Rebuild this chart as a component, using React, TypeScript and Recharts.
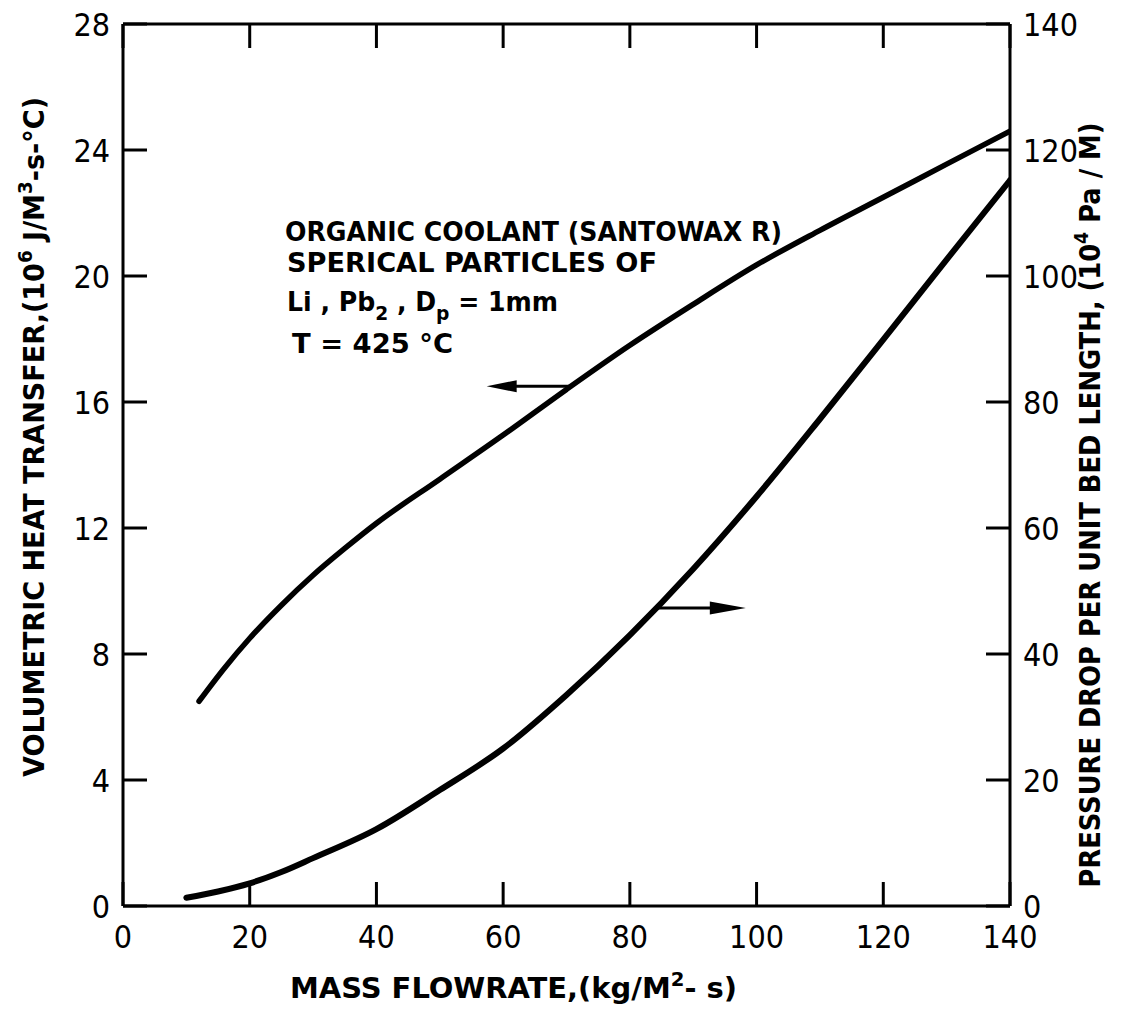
import React from 'react';
import { LineChart, Line, XAxis, YAxis, ReferenceLine, ReferenceDot, Customized } from 'recharts';

const xTicks = [0, 20, 40, 60, 80, 100, 120, 140];
const leftTicks = [0, 4, 8, 12, 16, 20, 24, 28];
const rightTicks = [0, 20, 40, 60, 80, 100, 120, 140];

// Volumetric heat transfer (10^6 J/M^3-s-°C) vs mass flowrate
const heatFlow = [12, 16, 20, 25, 30, 35, 40, 50, 60, 70, 80, 90, 100, 110, 120, 130, 140];
const heatTransfer = [6.5, 7.55, 8.5, 9.55, 10.5, 11.35, 12.15, 13.55, 14.95, 16.4, 17.8, 19.1, 20.35, 21.45, 22.5, 23.55, 24.6];

// Pressure drop per unit bed length (10^4 Pa/M) vs mass flowrate
const dropFlow = [10, 15, 20, 25, 30, 40, 50, 60, 70, 80, 90, 100, 110, 120, 130, 140];
const pressureDrop = [1.3, 2.3, 3.6, 5.4, 7.6, 12.2, 18.4, 25.0, 33.5, 43.0, 53.5, 65.0, 77.3, 89.9, 102.6, 115.2];

// Arrows pointing to the axis each curve belongs to
const leftArrowX = [70.5, 57.4];
const leftArrowY = 16.5;
const rightArrowX = [84.3, 98.3];
const rightArrowY = 47.3;

const noteLines = ['ORGANIC COOLANT (SANTOWAX R)', 'SPERICAL PARTICLES OF', 'T = 425 °C'];

const heatData = heatFlow.map((x, i) => ({ x, y: heatTransfer[i] }));
const dropData = dropFlow.map((x, i) => ({ x, y: pressureDrop[i] }));

const FONT = "'DejaVu Sans Condensed', 'DejaVu Sans', sans-serif";
const TICK_LEN = 24;

const BottomTick = (p: any) => (
  <g>
    <line x1={p.x} y1={p.y} x2={p.x} y2={p.y - TICK_LEN} stroke="#000" strokeWidth={3} />
    <text x={p.x} y={p.y + 42} textAnchor="middle" fontSize={32} fontFamily={FONT} fontStretch="condensed" fill="#000">
      {p.payload.value}
    </text>
  </g>
);

const TopTick = (p: any) => (
  <line x1={p.x} y1={p.y} x2={p.x} y2={p.y + TICK_LEN} stroke="#000" strokeWidth={3} />
);

const LeftTick = (p: any) => (
  <g>
    <line x1={p.x} y1={p.y} x2={p.x + TICK_LEN} y2={p.y} stroke="#000" strokeWidth={3} />
    <text x={p.x - 13} y={p.y + 12} textAnchor="end" fontSize={32} fontFamily={FONT} fontStretch="condensed" fill="#000">
      {p.payload.value}
    </text>
  </g>
);

const RightTick = (p: any) => (
  <g>
    <line x1={p.x} y1={p.y} x2={p.x - TICK_LEN} y2={p.y} stroke="#000" strokeWidth={3} />
    <text x={p.x + 13} y={p.y + 12} textAnchor="start" fontSize={32} fontFamily={FONT} fontStretch="condensed" fill="#000">
      {p.payload.value}
    </text>
  </g>
);

const LeftHead = (p: any) => (
  <polygon points={`${p.cx},${p.cy} ${p.cx + 30},${p.cy - 6} ${p.cx + 30},${p.cy + 6}`} fill="#000" />
);
const RightHead = (p: any) => (
  <polygon points={`${p.cx},${p.cy} ${p.cx - 36},${p.cy - 6.5} ${p.cx - 36},${p.cy + 6.5}`} fill="#000" />
);

const txt = { fontFamily: FONT, fontStretch: 'condensed', fontWeight: 'bold', fill: '#000' } as any;

const TextLayer = () => (
  <g>
    {/* left axis title */}
    <text transform="translate(44,437) rotate(-90)" textAnchor="middle" fontSize={28} textLength={680} lengthAdjust="spacingAndGlyphs" {...txt}>
      VOLUMETRIC HEAT TRANSFER,(10<tspan dy={-12} fontSize={19}>6</tspan><tspan dy={12}> J/M</tspan><tspan dy={-12} fontSize={19}>3</tspan><tspan dy={12}>-s-°C)</tspan>
    </text>
    {/* right axis title */}
    <text transform="translate(1100,505) rotate(-90)" textAnchor="middle" fontSize={28} textLength={765} lengthAdjust="spacingAndGlyphs" {...txt}>
      PRESSURE DROP PER UNIT BED LENGTH, (10<tspan dy={-12} fontSize={19}>4</tspan><tspan dy={12}> Pa / M)</tspan>
    </text>
    {/* x axis title */}
    <text x={290} y={998} fontSize={28} textLength={447} lengthAdjust="spacingAndGlyphs" {...txt}>
      MASS FLOWRATE,(kg/M<tspan dy={-12} fontSize={19}>2</tspan><tspan dy={12}>- s)</tspan>
    </text>
    {/* annotation */}
    <text x={285} y={241} fontSize={27} textLength={497} lengthAdjust="spacingAndGlyphs" {...txt}>{noteLines[0]}</text>
    <text x={287} y={272} fontSize={27} textLength={370} lengthAdjust="spacingAndGlyphs" {...txt}>{noteLines[1]}</text>
    <text x={287} y={311} fontSize={27} textLength={271} lengthAdjust="spacingAndGlyphs" {...txt}>
      Li , Pb<tspan dy={9} fontSize={20}>2</tspan><tspan dy={-9}> , D</tspan><tspan dy={9} fontSize={20}>p</tspan><tspan dy={-9}> = 1mm</tspan>
    </text>
    <text x={292} y={353} fontSize={27} textLength={161} lengthAdjust="spacingAndGlyphs" {...txt}>{noteLines[2]}</text>
  </g>
);

const axisLine = { stroke: '#000', strokeWidth: 3 };

export default function App() {
  return (
    <div style={{ position: 'absolute', left: 0, top: 0, background: '#fff' }}>
      <LineChart width={1125} height={1012} margin={{ top: 23, right: 114, bottom: 105, left: 122 }}>
        <XAxis xAxisId="bottom" type="number" dataKey="x" domain={[0, 140]} ticks={xTicks} orientation="bottom"
          height={1} tickSize={0} tickMargin={0} tickLine={false} axisLine={axisLine}
          tick={BottomTick} allowDataOverflow interval={0} />
        <XAxis xAxisId="top" type="number" dataKey="x" domain={[0, 140]} ticks={xTicks} orientation="top"
          height={1} tickSize={0} tickMargin={0} tickLine={false} axisLine={axisLine}
          tick={TopTick} allowDataOverflow interval={0} />
        <YAxis yAxisId="left" type="number" domain={[0, 28]} ticks={leftTicks} orientation="left"
          width={1} tickSize={0} tickMargin={0} tickLine={false} axisLine={axisLine}
          tick={LeftTick} allowDataOverflow interval={0} />
        <YAxis yAxisId="right" type="number" domain={[0, 140]} ticks={rightTicks} orientation="right"
          width={1} tickSize={0} tickMargin={0} tickLine={false} axisLine={axisLine}
          tick={RightTick} allowDataOverflow interval={0} />
        <Line xAxisId="bottom" yAxisId="left" data={heatData} dataKey="y" type="monotone" stroke="#000"
          strokeWidth={5.5} dot={false} isAnimationActive={false} strokeLinecap="round" />
        <Line xAxisId="bottom" yAxisId="right" data={dropData} dataKey="y" type="monotone" stroke="#000"
          strokeWidth={6} dot={false} isAnimationActive={false} strokeLinecap="round" />
        <ReferenceLine xAxisId="bottom" yAxisId="left" segment={[{ x: leftArrowX[0], y: leftArrowY }, { x: leftArrowX[1] + 2, y: leftArrowY }]}
          stroke="#000" strokeWidth={3} />
        <ReferenceDot xAxisId="bottom" yAxisId="left" x={leftArrowX[1]} y={leftArrowY} shape={LeftHead} />
        <ReferenceLine xAxisId="bottom" yAxisId="right" segment={[{ x: rightArrowX[0], y: rightArrowY }, { x: rightArrowX[1] - 2, y: rightArrowY }]}
          stroke="#000" strokeWidth={3} />
        <ReferenceDot xAxisId="bottom" yAxisId="right" x={rightArrowX[1]} y={rightArrowY} shape={RightHead} />
        <Customized component={TextLayer} />
      </LineChart>
    </div>
  );
}
